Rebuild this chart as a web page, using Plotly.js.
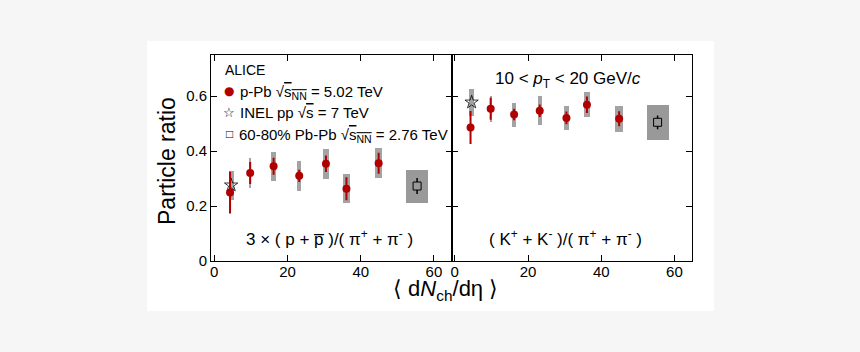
<!DOCTYPE html>
<html>
<head>
<meta charset="utf-8">
<script src="https://cdn.plot.ly/plotly-3.0.1.min.js"></script>
<style>html,body{margin:0;padding:0;background:#f6f6f6;}#chart{width:860px;height:352px;}</style>
</head>
<body>
<div id="chart"></div>
<script>
// ---- data ----
// p-Pb sqrt(sNN)=5.02 TeV
const pPbdNdeta    = [4.3, 9.8, 16.2, 23.2, 30.5, 36.1, 44.9];
const pPbdNdetaSys = [0, 0.3, 0.6, 0.6, 0.8, 0.9, 1.0];
const pPbProtonPi     = [0.249, 0.320, 0.345, 0.310, 0.354, 0.263, 0.356];
const pPbProtonPiStat = [0.076, 0.040, 0.031, 0.022, 0.030, 0.042, 0.038];
const pPbProtonPiSys  = [0, 0.055, 0.052, 0.054, 0.054, 0.053, 0.055];
const pPbKaonPi     = [0.486, 0.554, 0.533, 0.547, 0.521, 0.569, 0.518];
const pPbKaonPiStat = [0.060, 0.040, 0.021, 0.023, 0.023, 0.030, 0.027];
const pPbKaonPiSys  = [0, 0.048, 0.044, 0.052, 0.045, 0.045, 0.048];
// INEL pp sqrt(s)=7 TeV
const ppdNdeta = [4.6];
const ppdNdetaSys = [0.68];
const ppProtonPi = [0.276];
const ppProtonPiSys = [0.053];
const ppKaonPi = [0.578];
const ppKaonPiSys = [0.050];
// 60-80% Pb-Pb sqrt(sNN)=2.76 TeV
const PbPbdNdeta = [55.4];
const PbPbdNdetaSys = [3.0];
const PbPbProtonPi = [0.273];
const PbPbProtonPiStat = [0.029];
const PbPbProtonPiSys = [0.060];
const PbPbKaonPi = [0.505];
const PbPbKaonPiStat = [0.025];
const PbPbKaonPiSys = [0.063];

const xTicks = [0, 20, 40, 60];
const yTicks = [0, 0.2, 0.4, 0.6];

const RED = '#b00000';
const SYSGRAY = '#a3a3a3';
const BOXGRAY = '#999999';
const FONT = 'Liberation Sans, Arial, Helvetica, sans-serif';

function sysBars(x, xs, y, ys, color, xa, ya) {
  return {
    type: 'bar', x: x, width: xs.map(v => 2 * v),
    base: y.map((v, i) => v - ys[i]), y: ys.map(v => 2 * v),
    marker: {color: color, line: {width: 0}}, xaxis: xa, yaxis: ya,
    showlegend: false, hoverinfo: 'skip'
  };
}
function pts(x, y, stat, marker, ecolor, eth, xa, ya) {
  const t = {type: 'scatter', mode: 'markers', x: x, y: y, marker: marker,
    xaxis: xa, yaxis: ya, showlegend: false, cliponaxis: false};
  if (stat) t.error_y = {type: 'data', array: stat, visible: true, color: ecolor, thickness: eth, width: 0};
  return t;
}
const redM = {color: RED, size: 8};
const starM = {symbol: 'star-open', size: 10, color: '#000', line: {color: '#000', width: 0.8}};
const sqM = {symbol: 'square', size: 8, color: BOXGRAY, line: {color: '#000', width: 1}};

const data = [
  sysBars(PbPbdNdeta, PbPbdNdetaSys, PbPbProtonPi, PbPbProtonPiSys, BOXGRAY, 'x', 'y'),
  sysBars(pPbdNdeta, pPbdNdetaSys, pPbProtonPi, pPbProtonPiSys, SYSGRAY, 'x', 'y'),
  sysBars(ppdNdeta, ppdNdetaSys, ppProtonPi, ppProtonPiSys, SYSGRAY, 'x', 'y'),
  sysBars(PbPbdNdeta, PbPbdNdetaSys, PbPbKaonPi, PbPbKaonPiSys, BOXGRAY, 'x2', 'y2'),
  sysBars(pPbdNdeta, pPbdNdetaSys, pPbKaonPi, pPbKaonPiSys, SYSGRAY, 'x2', 'y2'),
  sysBars(ppdNdeta, ppdNdetaSys, ppKaonPi, ppKaonPiSys, SYSGRAY, 'x2', 'y2'),
  pts(PbPbdNdeta, PbPbProtonPi, PbPbProtonPiStat, sqM, '#000', 1.5, 'x', 'y'),
  pts(ppdNdeta, ppProtonPi, null, starM, '#000', 1, 'x', 'y'),
  pts(pPbdNdeta, pPbProtonPi, pPbProtonPiStat, redM, RED, 2, 'x', 'y'),
  pts(PbPbdNdeta, PbPbKaonPi, PbPbKaonPiStat, sqM, '#000', 1.5, 'x2', 'y2'),
  pts(ppdNdeta, ppKaonPi, null, starM, '#000', 1, 'x2', 'y2'),
  pts(pPbdNdeta, pPbKaonPi, pPbKaonPiStat, redM, RED, 2, 'x2', 'y2')
];

const L = 211, T = 55, W = 481, H = 206;
const px = v => (v - L) / W;
const py = v => (T + H - v) / H;

const xa = {range: [-0.9, 64.8], tickvals: xTicks, ticks: 'inside', ticklen: 6, tickcolor: '#000',
  showline: true, linecolor: '#000', linewidth: 1, mirror: 'ticks', showgrid: false, zeroline: false,
  ticklabelstandoff: -3,
  tickfont: {family: FONT, size: 15, color: '#000'}, fixedrange: true};
const ya = {range: [0, 0.75], tickvals: yTicks, ticks: 'inside', ticklen: 6, tickcolor: '#000',
  showline: true, linecolor: '#000', linewidth: 1, mirror: 'ticks', showgrid: false, zeroline: false,
  tickfont: {family: FONT, size: 15, color: '#000'}, fixedrange: true};

function ann(text, x, y, size, opts) {
  return Object.assign({text: text, x: px(x), y: py(y), xref: 'paper', yref: 'paper',
    showarrow: false, xanchor: 'left', yanchor: 'middle',
    font: {family: FONT, size: size, color: '#000'}}, opts || {});
}
const rad = 'style="text-decoration:overline"';
const annotations = [
  ann('ALICE', 223, 70, 14),
  ann('●', 229, 91, 17, {xanchor: 'center', font: {family: 'DejaVu Sans, sans-serif', size: 12, color: RED}}),
  ann('p-Pb √<span ' + rad + '>s<sub>NN</sub></span> = 5.02 TeV', 238, 92, 15),
  ann('☆', 229, 112.5, 13, {xanchor: 'center'}),
  ann('INEL pp √<span ' + rad + '>s</span> = 7 TeV', 238, 112.5, 15),
  ann('□', 229, 134, 12, {xanchor: 'center'}),
  ann('60-80% Pb-Pb √<span ' + rad + '>s<sub>NN</sub></span> = 2.76 TeV', 237, 135, 15),
  ann('10 &lt; <i>p</i><sub>T</sub> &lt; 20 GeV/<i>c</i>', 567.5, 80, 17, {xanchor: 'center'}),
  ann('3 × ( p + p\u0305 )/( π<sup>+</sup> + π<sup>-</sup> )', 329, 238, 17, {xanchor: 'center'}),
  ann('( K<sup>+</sup> + K<sup>-</sup> )/( π<sup>+</sup> + π<sup>-</sup> )', 565.5, 238, 17, {xanchor: 'center'}),
  ann('Particle ratio', 167, 161, 23, {xanchor: 'center', textangle: -90}),
  ann('⟨ d<i>N</i><sub>ch</sub>/dη ⟩', 445, 290, 22, {xanchor: 'center'})
];

const layout = {
  width: 860, height: 352,
  margin: {l: L, r: 860 - L - W, t: T, b: 352 - T - H, pad: 0},
  paper_bgcolor: '#f6f6f6', plot_bgcolor: '#ffffff',
  barmode: 'overlay', bargap: 0, showlegend: false,
  font: {family: FONT, color: '#000'},
  xaxis: Object.assign({}, xa, {domain: [0, 0.5], anchor: 'y'}),
  xaxis2: Object.assign({}, xa, {domain: [0.5, 1], anchor: 'y2'}),
  yaxis: Object.assign({}, ya, {domain: [0, 1], anchor: 'x'}),
  yaxis2: Object.assign({}, ya, {domain: [0, 1], anchor: 'x2', showticklabels: false}),
  shapes: [{type: 'rect', xref: 'paper', yref: 'paper', layer: 'below',
    x0: px(147), x1: px(714), y0: py(311), y1: py(41), fillcolor: '#ffffff', line: {width: 0}}],
  annotations: annotations
};

Plotly.newPlot('chart', data, layout, {staticPlot: true, displayModeBar: false});
</script>
</body>
</html>
